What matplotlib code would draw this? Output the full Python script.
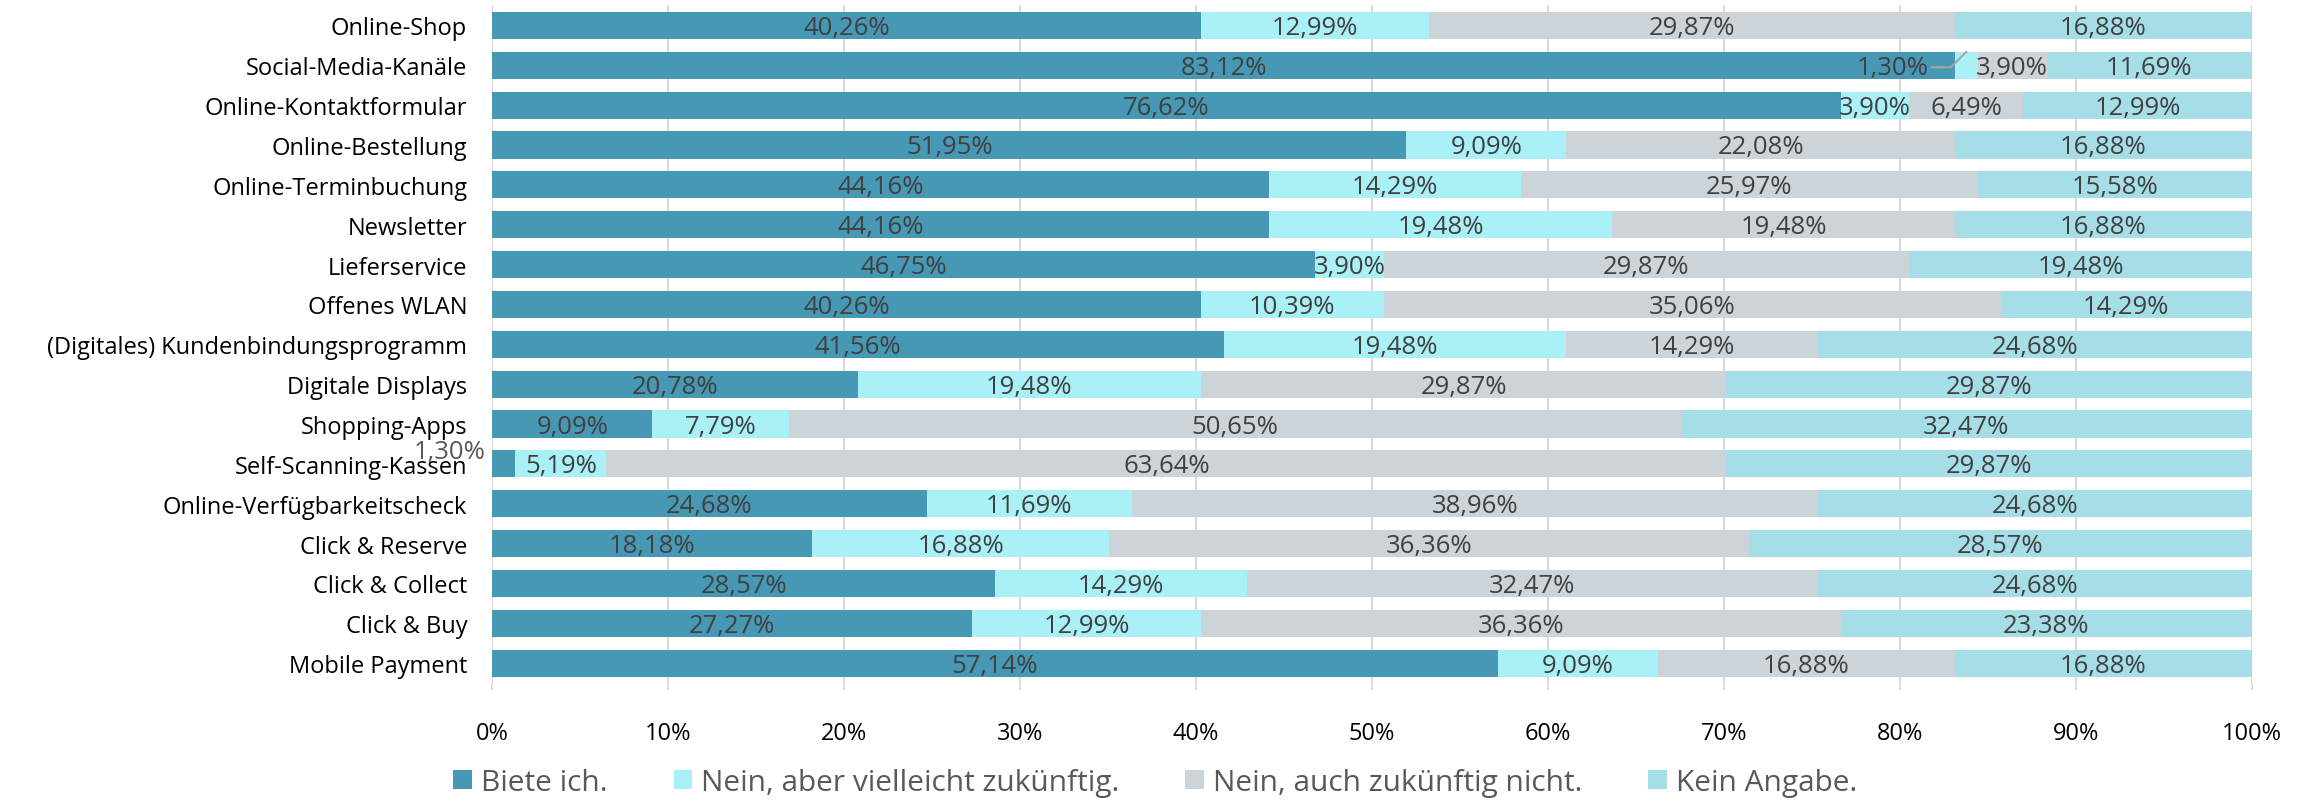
import matplotlib.pyplot as plt
from matplotlib.ticker import FuncFormatter

plt.rcParams['font.family'] = ['Open Sans', 'DejaVu Sans']

# categories (top to bottom) and shares in percent
categories = ['Online-Shop', 'Social-Media-Kanäle', 'Online-Kontaktformular',
              'Online-Bestellung', 'Online-Terminbuchung', 'Newsletter',
              'Lieferservice', 'Offenes WLAN', '(Digitales) Kundenbindungsprogramm',
              'Digitale Displays', 'Shopping-Apps', 'Self-Scanning-Kassen',
              'Online-Verfügbarkeitscheck', 'Click & Reserve', 'Click & Collect',
              'Click & Buy', 'Mobile Payment']
biete = [40.26, 83.12, 76.62, 51.95, 44.16, 44.16, 46.75, 40.26, 41.56,
         20.78, 9.09, 1.30, 24.68, 18.18, 28.57, 27.27, 57.14]
vielleicht = [12.99, 1.30, 3.90, 9.09, 14.29, 19.48, 3.90, 10.39, 19.48,
              19.48, 7.79, 5.19, 11.69, 16.88, 14.29, 12.99, 9.09]
nicht = [29.87, 3.90, 6.49, 22.08, 25.97, 19.48, 29.87, 35.06, 14.29,
         29.87, 50.65, 63.64, 38.96, 36.36, 32.47, 36.36, 16.88]
keine = [16.88, 11.69, 12.99, 16.88, 15.58, 16.88, 19.48, 14.29, 24.68,
         29.87, 32.47, 29.87, 24.68, 28.57, 24.68, 23.38, 16.88]
series_names = ['Biete ich.', 'Nein, aber vielleicht zukünftig.',
                'Nein, auch zukünftig nicht.', 'Kein Angabe.']
colors = ['#4698b4', '#aaf1f7', '#ccd4da', '#a6dee8']

fig = plt.figure(figsize=(23.11, 8.03), dpi=100)
ax = fig.add_axes([0.213, 0.148, 0.7615, 0.844])

lab_size = 18.5
y = list(range(len(categories)))
left = [0.0] * len(categories)
for vals, name, col in zip([biete, vielleicht, nicht, keine], series_names, colors):
    ax.barh(y, vals, left=left, height=0.68, color=col, label=name, zorder=2)
    for i, v in enumerate(vals):
        txt = f'{v:.2f}%'.replace('.', ',')
        cx = left[i] + v / 2
        # tiny segments get their labels moved out
        if i == 1 and name == series_names[1]:
            ax.annotate(txt, xy=(cx, i - 0.34), xytext=(79.6, i + 0.05),
                        ha='center', va='center', fontsize=lab_size, color='#404040',
                        arrowprops=dict(arrowstyle='-', color='#a6a6a6', lw=1.5,
                                        shrinkA=0, shrinkB=0,
                                        connectionstyle='angle,angleA=0,angleB=45,rad=0'),
                        zorder=4)
        elif i == 11 and name == series_names[0]:
            ax.text(-2.4, i - 0.32, txt, ha='center', va='center', fontsize=lab_size,
                    color='#595959', zorder=4, clip_on=False)
        else:
            ax.text(cx, i + 0.05, txt, ha='center', va='center', fontsize=lab_size,
                    color='#404040', zorder=3)
        left[i] += v

ax.set_xlim(0, 100)
ax.set_ylim(len(categories) - 0.5, -0.5)
ax.set_yticks(y)
ax.set_yticklabels(categories, fontsize=17, color='#000000')
ax.set_xticks(range(0, 101, 10))
ax.xaxis.set_major_formatter(FuncFormatter(lambda v, p: f'{v:.0f}%'))
ax.tick_params(axis='y', length=0, pad=18)
ax.tick_params(axis='x', length=5, width=1.2, color='#d9d9d9', pad=22, labelsize=17)
for s in ax.spines.values():
    s.set_visible(False)
ax.grid(axis='x', color='#d9d9d9', lw=1.5, zorder=0)
ax.set_axisbelow(True)

fig.legend(loc='center', bbox_to_anchor=(0.5, 0.024), ncol=4, frameon=False,
           fontsize=21.5, labelcolor='#595959', handlelength=0.63, handleheight=0.63,
           handletextpad=0.3, columnspacing=2.2)

fig.savefig('out.png', dpi=100)
